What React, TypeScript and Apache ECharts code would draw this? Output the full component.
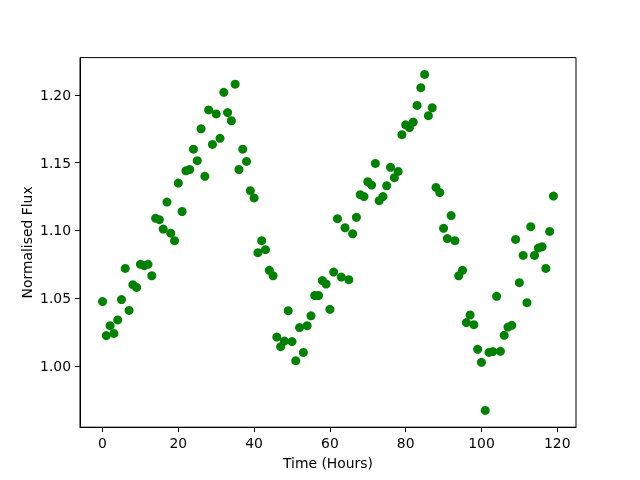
import React, { useEffect, useRef } from "react";
import * as echarts from "echarts";

const hours: number[] = Array.from({ length: 120 }, (_, i) => i);

const flux: number[] = [
  1.0475, 1.0224, 1.0297, 1.024, 1.034, 1.049, 1.072, 1.041, 1.06, 1.058,
  1.075, 1.074, 1.075, 1.0666, 1.109, 1.108, 1.101, 1.121, 1.098, 1.0925,
  1.135, 1.114, 1.144, 1.145, 1.16, 1.1515, 1.175, 1.14, 1.189, 1.1635,
  1.186, 1.168, 1.202, 1.187, 1.181, 1.208, 1.145, 1.16, 1.151, 1.1294,
  1.124, 1.0836, 1.0925, 1.0858, 1.0706, 1.0666, 1.0213, 1.0142, 1.0184, 1.0408,
  1.018, 1.0039, 1.0283, 1.01, 1.0297, 1.037, 1.052, 1.052, 1.063, 1.0605,
  1.0418, 1.0693, 1.1087, 1.0656, 1.102, 1.0637, 1.0976, 1.1097, 1.1264, 1.125,
  1.136, 1.1335, 1.1495, 1.122, 1.125, 1.133, 1.1466, 1.139, 1.1436, 1.1707,
  1.178, 1.176, 1.18, 1.1923, 1.2054, 1.2152, 1.1847, 1.1906, 1.1318, 1.128,
  1.1016, 1.094, 1.111, 1.0925, 1.0666, 1.0706, 1.032, 1.0376, 1.0305, 1.0123,
  1.0027, 0.9672, 1.01, 1.0106, 1.0514, 1.0108, 1.0226, 1.0287, 1.03, 1.0934,
  1.0615, 1.0816, 1.0467, 1.1028, 1.0816, 1.087, 1.088, 1.072, 1.0993, 1.1254,
];

const xTicks: number[] = [0, 20, 40, 60, 80, 100, 120];
const yTicks: number[] = [1.0, 1.05, 1.1, 1.15, 1.2];

export default function App() {
  const ref = useRef<HTMLDivElement>(null);
  useEffect(() => {
    if (!ref.current) return;
    const chart = echarts.init(ref.current, null, { renderer: "svg" });
    const xmin = Math.min(...hours);
    const xmax = Math.max(...hours);
    const ymin = Math.min(...flux);
    const ymax = Math.max(...flux);
    const xm = (xmax - xmin) * 0.05;
    const ym = (ymax - ymin) * 0.05;
    const font = "DejaVu Sans";
    chart.setOption({
      animation: false,
      grid: {
        left: 80,
        right: 64,
        top: 57.6,
        bottom: 52.8,
        show: true,
        borderColor: "#000",
        borderWidth: 1,
        backgroundColor: "transparent",
      },
      xAxis: {
        type: "value",
        min: xmin - xm,
        max: xmax + xm,
        name: "Time (Hours)",
        nameLocation: "middle",
        nameGap: 29,
        nameTextStyle: { fontFamily: font, fontSize: 13.9, color: "#000" },
        axisLine: { show: true, onZero: false, lineStyle: { color: "#000", width: 1 } },
        axisTick: { show: true, length: 4.9, customValues: xTicks, lineStyle: { color: "#000", width: 1 } },
        axisLabel: {
          customValues: xTicks,
          margin: 9,
          fontFamily: font,
          fontSize: 13.9,
          color: "#000",
        },
        splitLine: { show: false },
      },
      yAxis: {
        type: "value",
        min: ymin - ym,
        max: ymax + ym,
        name: "Normalised Flux",
        nameLocation: "middle",
        nameRotate: 90,
        nameGap: 53,
        nameMoveOverlap: false,
        nameTextStyle: { fontFamily: font, fontSize: 13.9, color: "#000", verticalAlign: "middle" },
        axisLine: { show: true, onZero: false, lineStyle: { color: "#000", width: 1 } },
        axisTick: { show: true, length: 4.9, customValues: yTicks, lineStyle: { color: "#000", width: 1 } },
        axisLabel: {
          customValues: yTicks,
          margin: 9,
          fontFamily: font,
          fontSize: 13.9,
          color: "#000",
          formatter: (v: number) => v.toFixed(2),
        },
        splitLine: { show: false },
      },
      series: [
        {
          type: "scatter",
          data: hours.map((h, i) => [h, flux[i]]),
          symbol: "circle",
          symbolSize: 9,
          itemStyle: { color: "#008000", opacity: 1 },
        },
      ],
    });
    return () => chart.dispose();
  }, []);
  return (
    <div
      ref={ref}
      style={{ position: "fixed", left: 0, top: 0, width: 640, height: 480 }}
    />
  );
}
